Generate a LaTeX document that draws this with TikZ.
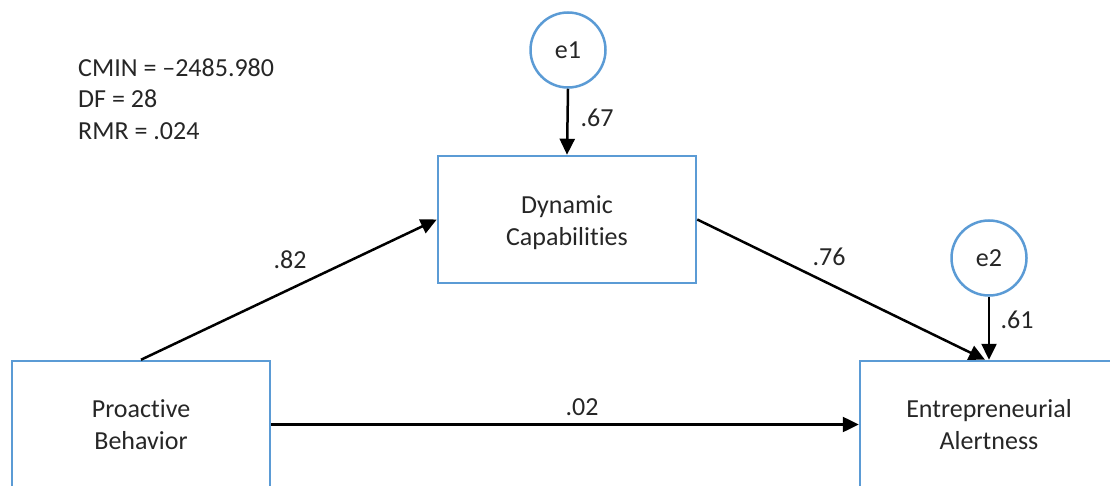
\documentclass[tikz,border=0pt]{standalone}
\usepackage{fontspec}
\setmainfont{Carlito}[Ligatures={NoCommon}]
\usetikzlibrary{arrows.meta}
\definecolor{boxblue}{HTML}{5B9BD5}
\definecolor{txt}{HTML}{262626}
\begin{document}
\begin{tikzpicture}[x=1pt,y=-1pt,
  every node/.style={font=\fontsize{26}{31.5}\selectfont, text=txt},
  varbox/.style={draw=boxblue, line width=2.5pt, rectangle, minimum width=258pt, minimum height=127pt, align=center, inner sep=0pt},
  errc/.style={draw=boxblue, line width=2.5pt, circle, minimum size=75pt, inner sep=0pt},
  path/.style={draw=black, line width=2.5pt, -{Triangle[length=16pt,width=15pt]}},
  lbl/.style={inner sep=0pt}
]
\clip (0,0) rectangle (1110,486);
\useasboundingbox (0,0) rectangle (1110,486);
\node[varbox] (pb) at (141,424.5) {Proactive\\Behavior};
\node[varbox, label={[align=center, yshift=-3pt]center:Dynamic\\Capabilities}] (dc) at (567,219.5) {};
\node[varbox] (ea) at (989,424.5) {Entrepreneurial\\Alertness};
\node[errc] (e1) at (568,50) {e1};
\node[errc] (e2) at (989,258) {e2};
\node[lbl, anchor=west, align=left] (stats) at (78,99) {CMIN = –2485.980\\DF = 28\\RMR = .024};
\draw[path] (e1.south) -- (dc.north);
\draw[path] (e2.south) -- (ea.north);
\draw[path] (pb.north) -- (dc.west);
\draw[path] (dc.east) -- ([xshift=-4pt]ea.north);
\draw[path] (pb.east) -- (ea.west);
\node[lbl] (l67) at (597,118) {.67};
\node[lbl] (l61) at (1017,320) {.61};
\node[lbl] (l82) at (290,260) {.82};
\node[lbl] (l76) at (829,257) {.76};
\node[lbl] (l02) at (582,407) {.02};
\end{tikzpicture}
\end{document}
